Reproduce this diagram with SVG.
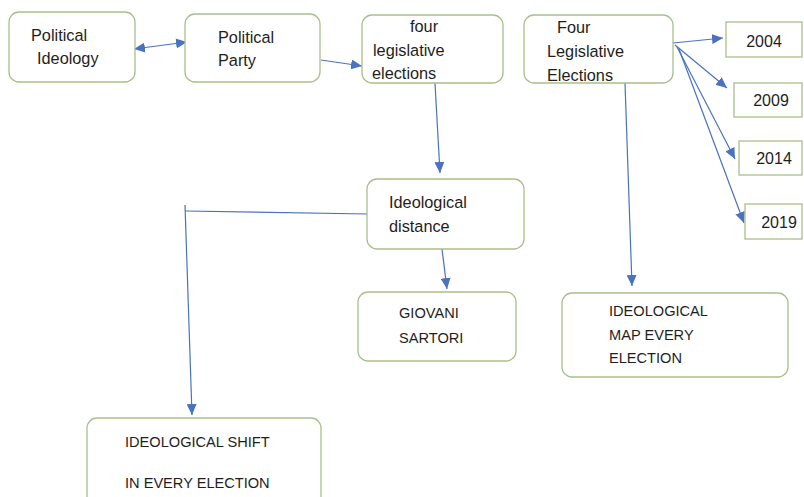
<svg xmlns="http://www.w3.org/2000/svg" width="804" height="497" viewBox="0 0 804 497">
<style>
.box{fill:#fff;stroke:#a9bf8c;stroke-width:1.3}
.t{font-family:"Liberation Sans",Arial,sans-serif;font-size:16.3px;fill:#1e1e1e}
.y{font-family:"Liberation Sans",Arial,sans-serif;font-size:16px;fill:#1e1e1e}
.c{font-family:"Liberation Sans",Arial,sans-serif;font-size:14.6px;fill:#1e1e1e}
.ln{fill:none;stroke:#4a72c0;stroke-width:1.2}
</style>
<defs>
<marker id="ah" markerUnits="userSpaceOnUse" markerWidth="12" markerHeight="10" refX="11" refY="5" orient="auto">
<path d="M0,0 L11,5 L0,10 Z" fill="#4a72c0"/>
</marker>
<marker id="as" markerUnits="userSpaceOnUse" markerWidth="12" markerHeight="10" refX="1" refY="5" orient="auto">
<path d="M12,0 L1,5 L12,10 Z" fill="#4a72c0"/>
</marker>
</defs>
<rect width="804" height="497" fill="#fff"/>
<g id="connectors">
<line class="ln" x1="134" y1="49" x2="187" y2="42" marker-start="url(#as)" marker-end="url(#ah)"/>
<line class="ln" x1="321" y1="60" x2="362" y2="66" marker-end="url(#ah)"/>
<line class="ln" x1="435" y1="83" x2="440" y2="173" marker-end="url(#ah)"/>
<line class="ln" x1="442" y1="249" x2="447" y2="289" marker-end="url(#ah)"/>
<polyline class="ln" points="368,214 185,211"/>
<line class="ln" x1="185" y1="205" x2="192" y2="415" marker-end="url(#ah)"/>
<line class="ln" x1="625" y1="83" x2="632" y2="286" marker-end="url(#ah)"/>
<line class="ln" x1="673" y1="43" x2="723" y2="38" marker-end="url(#ah)"/>
<line class="ln" x1="675" y1="45" x2="727" y2="88" marker-end="url(#ah)"/>
<line class="ln" x1="677" y1="47" x2="735" y2="159" marker-end="url(#ah)"/>
<line class="ln" x1="679" y1="49" x2="744" y2="223" marker-end="url(#ah)"/>
</g>
<g id="political-ideology">
<rect class="box" x="9" y="12" width="126" height="70" rx="10"/>
<text class="t" x="31" y="41">Political</text>
<text class="t" x="37" y="64">Ideology</text>
</g>
<g id="political-party">
<rect class="box" x="185" y="14" width="135" height="68" rx="10"/>
<text class="t" x="218" y="43">Political</text>
<text class="t" x="218" y="66">Party</text>
</g>
<g id="four-legislative-elections">
<rect class="box" x="362" y="15" width="141" height="68" rx="10"/>
<text class="t" x="410" y="32">four</text>
<text class="t" x="373" y="56">legislative</text>
<text class="t" x="372" y="79">elections</text>
</g>
<g id="four-legislative-elections-2">
<rect class="box" x="524" y="15" width="149" height="68" rx="10"/>
<text class="t" x="557" y="33">Four</text>
<text class="t" x="547" y="57">Legislative</text>
<text class="t" x="547" y="81">Elections</text>
</g>
<g id="y2004">
<rect class="box" x="726" y="22" width="76" height="35"/>
<text class="y" x="764" y="47" text-anchor="middle">2004</text>
</g>
<g id="y2009">
<rect class="box" x="734" y="83" width="68" height="34"/>
<text class="y" x="771" y="106" text-anchor="middle">2009</text>
</g>
<g id="y2014">
<rect class="box" x="739" y="141" width="63" height="34"/>
<text class="y" x="774" y="164" text-anchor="middle">2014</text>
</g>
<g id="y2019">
<rect class="box" x="745" y="204" width="57" height="35"/>
<text class="y" x="779" y="228" text-anchor="middle">2019</text>
</g>
<g id="ideological-distance">
<rect class="box" x="367" y="179" width="157" height="70" rx="10"/>
<text class="t" x="389" y="208">Ideological</text>
<text class="t" x="389" y="232">distance</text>
</g>
<g id="giovani-sartori">
<rect class="box" x="358" y="292" width="158" height="69" rx="10"/>
<text class="c" x="399" y="318">GIOVANI</text>
<text class="c" x="399" y="343">SARTORI</text>
</g>
<g id="ideological-map">
<rect class="box" x="562" y="293" width="226" height="84" rx="10"/>
<text class="c" x="609" y="316">IDEOLOGICAL</text>
<text class="c" x="609" y="340">MAP EVERY</text>
<text class="c" x="609" y="363">ELECTION</text>
</g>
<g id="ideological-shift">
<rect class="box" x="87" y="418" width="234" height="95" rx="10"/>
<text class="c" x="125" y="447">IDEOLOGICAL SHIFT</text>
<text class="c" x="125" y="488">IN EVERY ELECTION</text>
</g>
</svg>
